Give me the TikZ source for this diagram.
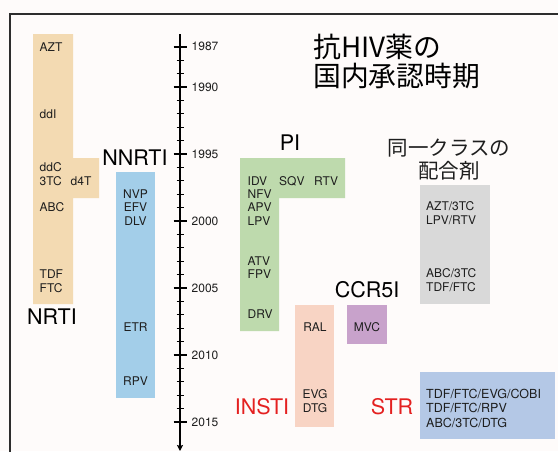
\documentclass[tikz,border=0pt]{standalone}
\usepackage{fontspec}
\setmainfont{TeX Gyre Heros}
\newfontfamily\cjk{Noto Sans CJK JP}
\usetikzlibrary{arrows.meta}
\definecolor{bgc}{RGB}{254,251,250}
\definecolor{framec}{RGB}{45,45,45}
\definecolor{nrtic}{RGB}{243,218,178}
\definecolor{nnrtic}{RGB}{163,206,233}
\definecolor{pic}{RGB}{190,218,173}
\definecolor{instic}{RGB}{248,212,196}
\definecolor{ccrc}{RGB}{200,162,203}
\definecolor{grayc}{RGB}{217,217,217}
\definecolor{strc}{RGB}{180,200,230}
\definecolor{redc}{RGB}{228,32,32}
\definecolor{textc}{RGB}{30,30,30}
\tikzset{
  lbl/.style={font=\fontsize{12}{12}\selectfont, inner sep=0pt, text=textc},
  strlbl/.style={font=\fontsize{12.5}{13}\selectfont, inner sep=0pt, text=textc},
  yearlbl/.style={font=\fontsize{12}{12}\selectfont, inner sep=0pt, anchor=west, text=textc},
  cls/.style={font=\fontsize{21.5}{22}\selectfont, inner sep=0pt, text=black},
  redcls/.style={cls, text=redc},
  axisline/.style={line width=1.3pt, black},
  majtick/.style={line width=1.8pt, black},
  mintick/.style={line width=1.2pt, black},
}
\begin{document}
\begin{tikzpicture}[x=1pt,y=-1pt]
\useasboundingbox (0,0) rectangle (558,451);
\fill[bgc] (0,0) rectangle (558,451);
% frame
\draw[framec, line width=1.8pt] (10,452) -- (10,14) -- (559,14);

% title
\node[anchor=west, inner sep=0pt, font=\cjk\fontsize{27.8}{28}\selectfont] (t1) at (313,47) {抗HIV薬の};
\node[anchor=west, inner sep=0pt, font=\cjk\fontsize{27.8}{28}\selectfont] (t2) at (313,75.5) {国内承認時期};

% axis
\coordinate (axtop) at (180,34);
\coordinate (axbot) at (180,451);
\draw[axisline, -{Stealth[length=6pt,width=6pt,inset=1pt]}] (axtop) -- (axbot);
\foreach \yr in {1988,1989,1991,1992,1993,1994,1996,1997,1998,1999,2001,2002,2003,2004,2006,2007,2008,2009,2011,2012,2013,2014}{
  \pgfmathsetmacro{\yy}{87+(\yr-1990)*13.4}
  \draw[mintick] (176.5,\yy) -- (183.5,\yy);
}
\foreach \yr in {1987,1990,1995,2000,2005,2010,2015}{
  \pgfmathsetmacro{\yy}{87+(\yr-1990)*13.4}
  \draw[majtick] (173.5,\yy) -- (186.5,\yy);
  \node[yearlbl] (y\yr) at (191.5,\yy) {\yr};
}

% NRTI
\fill[nrtic] (33,34) -- (73,34) -- (73,158) -- (99,158) -- (99,198) -- (73,198) -- (73,304) -- (33,304) -- cycle;
\node[lbl, anchor=west] (azt) at (39.5,47) {AZT};
\node[lbl, anchor=west] (ddi) at (39.5,114) {ddI};
\node[lbl, anchor=west] (ddc) at (39.5,167) {ddC};
\node[lbl, anchor=west] (tc3) at (39.5,181) {3TC};
\node[lbl, anchor=west] (d4t) at (70.5,181) {d4T};
\node[lbl, anchor=west] (abc) at (39.5,207.5) {ABC};
\node[lbl, anchor=west] (tdf) at (39.5,274) {TDF};
\node[lbl, anchor=west] (ftc) at (39.5,288) {FTC};
\node[cls] (nrti) at (52,317) {NRTI};

% NNRTI
\fill[nnrtic] (116,172) rectangle (155,398);
\node[lbl] (nvp) at (135.5,194) {NVP};
\node[lbl] (efv) at (135.5,207.5) {EFV};
\node[lbl] (dlv) at (135.5,221) {DLV};
\node[lbl] (etr) at (135.5,327.5) {ETR};
\node[lbl] (rpv) at (135.5,381) {RPV};
\node[cls] (nnrti) at (135,158) {NNRTI};

% PI
\fill[pic] (240,158) -- (345,158) -- (345,198) -- (279,198) -- (279,331) -- (240,331) -- cycle;
\node[lbl, anchor=west] (idv) at (247.5,181) {IDV};
\node[lbl, anchor=west] (sqv) at (279,181) {SQV};
\node[lbl, anchor=west] (rtv) at (314,181) {RTV};
\node[lbl, anchor=west] (nfv) at (247.5,194) {NFV};
\node[lbl, anchor=west] (apv) at (247.5,207.5) {APV};
\node[lbl, anchor=west] (lpv) at (247.5,221) {LPV};
\node[lbl, anchor=west] (atv) at (247.5,261) {ATV};
\node[lbl, anchor=west] (fpv) at (247.5,274.5) {FPV};
\node[lbl, anchor=west] (drv) at (247.5,314) {DRV};
\node[cls] (pi) at (290,143) {PI};

% INSTI
\fill[instic] (295,305) rectangle (334,427);
\node[lbl] (ral) at (315,327.5) {RAL};
\node[lbl] (evg) at (315,394) {EVG};
\node[lbl] (dtg) at (315,408) {DTG};
\node[redcls] (insti) at (262,407) {INSTI};

% CCR5I
\fill[ccrc] (347,305) rectangle (387,344);
\node[lbl] (mvc) at (367,327.5) {MVC};
\node[cls] (ccr) at (367,290) {CCR5I};

% combination (gray)
\node[inner sep=0pt, font=\cjk\fontsize{20.5}{22}\selectfont, text=textc] (comb1) at (449,148) {同一クラスの};
\node[inner sep=0pt, font=\cjk\fontsize{20.5}{22}\selectfont, text=textc] (comb2) at (449,170.5) {配合剤};
\fill[grayc] (420,185) rectangle (490,304);
\node[lbl, anchor=west] (g1) at (426,206) {AZT/3TC};
\node[lbl, anchor=west] (g2) at (426,220) {LPV/RTV};
\node[lbl, anchor=west] (g3) at (426,273.5) {ABC/3TC};
\node[lbl, anchor=west] (g4) at (426,287.5) {TDF/FTC};

% STR
\fill[strc] (420,372) rectangle (555,439);
\node[strlbl, anchor=west] (s1) at (426,394) {TDF/FTC/EVG/COBI};
\node[strlbl, anchor=west] (s2) at (426,408) {TDF/FTC/RPV};
\node[strlbl, anchor=west] (s3) at (426,422.5) {ABC/3TC/DTG};
\node[redcls] (str) at (392,407) {STR};
\end{tikzpicture}
\end{document}
